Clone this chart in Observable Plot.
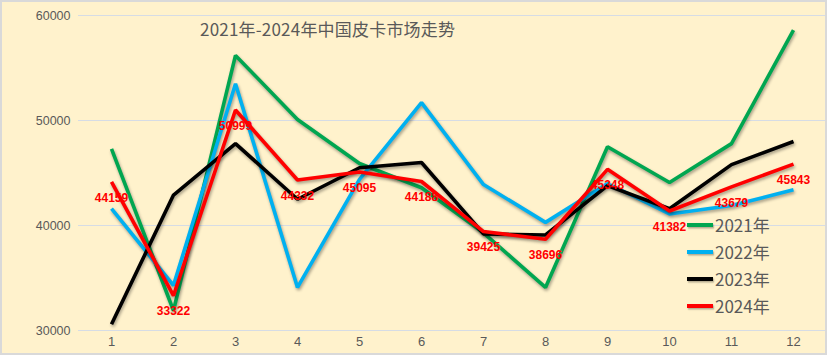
<!DOCTYPE html>
<html><head><meta charset="utf-8">
<script src="https://cdn.jsdelivr.net/npm/d3@7"></script>
<script src="https://cdn.jsdelivr.net/npm/@observablehq/plot@0.6"></script>
<style>
html,body{margin:0;padding:0;background:#fff;}
#wrap{position:relative;width:827px;height:355px;overflow:hidden;}
#wrap svg{display:block;}
#title{position:absolute;left:200px;top:16px;font:17px "Noto Sans CJK SC","Liberation Sans",sans-serif;color:#595959;white-space:nowrap;letter-spacing:0.2px;}
#legend{position:absolute;left:687px;top:211px;font:17px "Noto Sans CJK SC","Liberation Sans",sans-serif;color:#595959;}
#legend div{height:27px;display:flex;align-items:center;}
#legend span.sw{display:inline-block;width:26px;height:4px;margin-right:2px;box-shadow:1px 1.5px 1.5px rgba(0,0,0,0.3);}
#border{position:absolute;left:0;top:0;width:823px;height:351px;border:2px solid #d9d9d9;pointer-events:none;}
</style></head>
<body>
<div id="wrap"><div id="title"></div><div id="legend"></div><div id="border"></div></div>
<script>
const title = "2021年-2024年中国皮卡市场走势";
const months = [1,2,3,4,5,6,7,8,9,10,11,12];
const seriesNames = ["2021年","2022年","2023年","2024年"];
const seriesColors = ["#00A650","#00B0F0","#000000","#FF0000"];
const s2021 = [47300,31900,56200,50100,45900,43600,39300,34100,47500,44100,47800,58600];
const s2022 = [41600,34300,53500,34100,44400,51700,43900,40300,44000,41100,41900,43400];
const s2023 = [30600,42900,47800,42500,45500,46000,39200,39100,43800,41600,45800,48000];
const s2024 = [44159,33322,50999,44332,45095,44188,39425,38696,45348,41382,43679,45843];
const yTicks = [30000,40000,50000,60000];

const allSeries = [s2021,s2022,s2023,s2024];
const rows = [];
allSeries.forEach((vals,i)=>vals.forEach((v,j)=>rows.push({series:seriesNames[i],month:months[j],value:v})));
const labelRows = s2024.map((v,j)=>({month:months[j],value:v}));

const marks = [
  Plot.gridY(yTicks,{stroke:"#d6dce5",strokeOpacity:1,strokeWidth:1.2}),
  Plot.axisY(yTicks,{tickSize:0,tickPadding:8,fontSize:12.5,fill:"#595959",label:null,tickFormat:d=>String(d)}),
  Plot.axisX(months,{tickSize:0,tickPadding:6,fontSize:13,fill:"#595959",label:null}),
];
seriesNames.forEach((name,i)=>{
  marks.push(Plot.line(rows.filter(r=>r.series===name),{x:"month",y:"value",stroke:seriesColors[i],strokeWidth:3.6,strokeLinejoin:"miter",strokeLinecap:"butt"}));
});
marks.push(Plot.text(labelRows,{x:"month",y:"value",text:d=>String(d.value),dy:16,fill:"#FF0000",fontSize:12,fontWeight:"bold",fontFamily:"Liberation Sans, Arial, sans-serif"}));

const chart = Plot.plot({
  width:827,height:355,
  marginLeft:78,marginRight:2,marginTop:15,marginBottom:25,
  style:{background:"#FFF2CC",fontFamily:"Liberation Sans, Arial, sans-serif",overflow:"visible"},
  x:{type:"point",domain:months,padding:0.5,axis:null},
  y:{domain:[30000,60000],axis:null},
  marks
});
chart.querySelectorAll('g[aria-label="line"]').forEach(g=>{g.style.filter="drop-shadow(1.5px 2px 1.5px rgba(0,0,0,0.35))";});
const wrap = document.getElementById("wrap");
wrap.insertBefore(chart, wrap.firstChild);
document.getElementById("title").textContent = title;
const lg = document.getElementById("legend");
seriesNames.forEach((n,i)=>{
  const d=document.createElement("div");
  d.innerHTML=`<span class="sw" style="background:${seriesColors[i]}"></span><span>${n}</span>`;
  lg.appendChild(d);
});
</script>
</body></html>
